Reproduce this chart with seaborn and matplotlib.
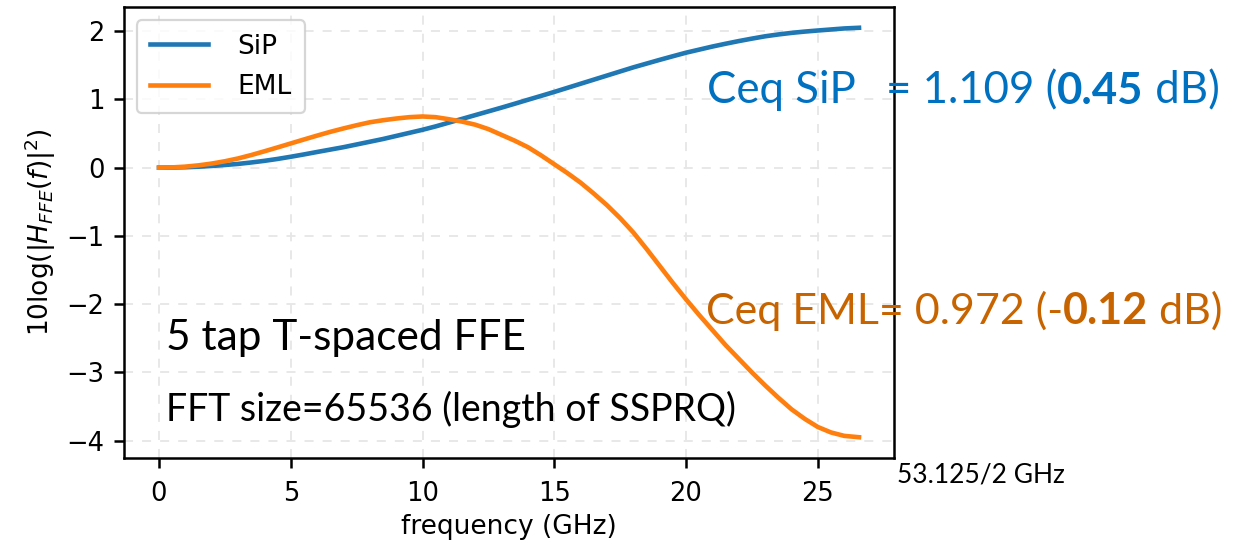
import matplotlib
matplotlib.use("Agg")
import matplotlib.pyplot as plt
import numpy as np
import pandas as pd
import seaborn as sns

# ---- data ----
freq = [0, 0.5, 1, 1.5, 2, 2.5, 3, 3.5, 4, 4.5, 5, 5.5, 6, 6.5, 7, 7.5, 8, 8.5,
        9, 9.5, 10, 10.5, 11, 11.5, 12, 12.5, 13, 13.5, 14, 14.5, 15, 15.5, 16,
        16.5, 17, 17.5, 18, 18.5, 19, 19.5, 20, 20.5, 21, 21.5, 22, 22.5, 23,
        23.5, 24, 24.5, 25, 25.5, 26, 26.5625]
sip = [0.0, 0.0015, 0.006, 0.014, 0.025, 0.039, 0.055, 0.076, 0.10, 0.128, 0.16,
       0.194, 0.23, 0.265, 0.30, 0.34, 0.38, 0.42, 0.465, 0.51, 0.555, 0.605, 0.66,
       0.715, 0.77, 0.825, 0.88, 0.937, 0.995, 1.052, 1.11, 1.17, 1.23, 1.29, 1.35,
       1.41, 1.47, 1.525, 1.58, 1.633, 1.685, 1.73, 1.775, 1.816, 1.855, 1.891,
       1.925, 1.952, 1.975, 1.994, 2.01, 2.025, 2.04, 2.05]
eml = [0.0, 0.004, 0.015, 0.034, 0.06, 0.094, 0.135, 0.185, 0.24, 0.297, 0.355,
       0.413, 0.47, 0.525, 0.575, 0.622, 0.665, 0.695, 0.72, 0.74, 0.75, 0.74, 0.71,
       0.675, 0.63, 0.565, 0.48, 0.395, 0.30, 0.18, 0.05, -0.08, -0.22, -0.38,
       -0.55, -0.74, -0.95, -1.19, -1.44, -1.69, -1.93, -2.16, -2.38, -2.60, -2.80,
       -3.00, -3.19, -3.37, -3.54, -3.68, -3.80, -3.88, -3.93, -3.95]
series_names = ["SiP", "EML"]
xticks = [0, 5, 10, 15, 20, 25]
yticks = [-4, -3, -2, -1, 0, 1, 2]

df = pd.DataFrame({
    "frequency": freq * 2,
    "value": sip + eml,
    "device": [series_names[0]] * len(freq) + [series_names[1]] * len(freq),
})

W, H = 1250, 546
fig = plt.figure(figsize=(W / 100, H / 100), dpi=100)
ax = fig.add_axes([124 / W, 1 - 457.7 / H, (894 - 124) / W, (457.7 - 7.3) / H])

sns.lineplot(data=df, x="frequency", y="value", hue="device",
             hue_order=series_names, palette=["#1f77b4", "#ff7f0e"],
             linewidth=3.3, ax=ax, estimator=None, sort=False)

ax.set_xticks(xticks)
ax.set_yticks(yticks)
ax.grid(True, linestyle=(0, (5, 5)), color="#e6e6e6", linewidth=1.3)
ax.set_axisbelow(True)
for s in ax.spines.values():
    s.set_linewidth(1.8)
    s.set_color("black")
ax.tick_params(labelsize=18.5, length=7, width=1.8, direction="out", pad=7)
ax.tick_params(axis="x", pad=10)
ax.set_xlabel("frequency (GHz)", fontsize=19, labelpad=5)
ax.set_ylabel(r"10log($|H_{FFE}(f)|^2$)", fontsize=19, labelpad=6)

leg = ax.legend(loc="upper left", fontsize=19, frameon=True, framealpha=0.8,
                edgecolor="#cccccc", handlelength=2.2, handletextpad=1.1,
                borderpad=0.5, labelspacing=0.55)
leg.get_frame().set_linewidth(1.6)
for l in leg.get_lines():
    l.set_linewidth(3.3)

FONT = "Lato"
BLUE = "#0070C0"
ORANGE = "#C86400"


def fx(px):
    return px / W


def fy(py):
    return 1 - py / H


def rich(x, y, parts, color, size):
    t = fig.text(fx(x), fy(y), parts[0][0], fontweight=parts[0][1], color=color,
                 fontsize=size, family=FONT, va="baseline", ha="left")
    for s, w in parts[1:]:
        t = ax.annotate(s, xy=(1, 0), xycoords=t, va="bottom", ha="left",
                        color=color, fontsize=size, family=FONT, fontweight=w,
                        annotation_clip=False)
    return t


fig.text(fx(707), fy(103), "Ceq SiP", color=BLUE, fontsize=31.5, family=FONT,
         va="baseline", ha="left")
rich(886, 103, [("= 1.109 (", "normal"), ("0.45", "bold"), (" dB)", "normal")],
     BLUE, 31.5)
rich(706, 324, [("Ceq EML= 0.972 (-", "normal"), ("0.12", "bold"), (" dB)", "normal")],
     ORANGE, 31)

fig.text(fx(166), fy(350), "5 tap T-spaced FFE", color="black", fontsize=30.5,
         family=FONT, va="baseline", ha="left")
fig.text(fx(166), fy(421), "FFT size=65536 (length of SSPRQ)", color="black",
         fontsize=27, family=FONT, va="baseline", ha="left")
fig.text(fx(897), fy(483), "53.125/2 GHz", color="black", fontsize=19,
         family=FONT, va="baseline", ha="left")

fig.savefig("out.png", dpi=100)
